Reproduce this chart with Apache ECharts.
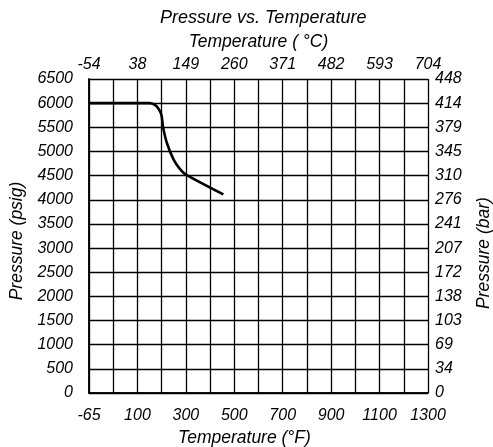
<!DOCTYPE html>
<html>
<head>
<meta charset="utf-8">
<script src="https://cdn.jsdelivr.net/npm/echarts@6/dist/echarts.min.js"></script>
<style>
html,body{margin:0;padding:0;background:#fff;}
#chart{width:493px;height:447px;}
</style>
</head>
<body>
<div id="chart"></div>
<script>
// ---- data ----
const fLabels = ['-65', '100', '300', '500', '700', '900', '1100', '1300'];
const cLabels = ['-54', '38', '149', '260', '371', '482', '593', '704'];
const psigLabels = ['0','500','1000','1500','2000','2500','3000','3500','4000','4500','5000','5500','6000','6500'];
const barLabels = ['0','34','69','103','138','172','207','241','276','310','345','379','414','448'];
const tempF = [-65, 150, 170, 185, 199, 206, 222, 250, 275, 300, 455];
const psig  = [6000, 6000, 5970, 5900, 5760, 5500, 5170, 4825, 4640, 4520, 4110];

// the chart's temperature axis: first two columns span -65..100 °F, then 100 °F per column
function pos(t) { return t <= 100 ? (t + 65) / 165 * 2 : 2 + (t - 100) / 100; }
const lineData = tempF.map((t, i) => [pos(t), psig[i]]);

const FONT = 'Liberation Sans';
const lbl = { color: '#000', fontFamily: FONT, fontStyle: 'italic', fontSize: 16 };
const nm = { color: '#000', fontFamily: FONT, fontStyle: 'italic', fontSize: 17.5 };
const axLine = { show: true, lineStyle: { color: '#000', width: 1.5 } };

const chart = echarts.init(document.getElementById('chart'), null, { renderer: 'canvas' });
chart.setOption({
  animation: false,
  backgroundColor: '#fff',
  title: {
    text: 'Pressure vs. Temperature',
    left: 160, top: 9, padding: 0,
    textStyle: Object.assign({}, nm, { fontSize: 18, fontWeight: 'normal' })
  },
  grid: { left: 89, right: 65, top: 79, bottom: 54, containLabel: false, outerBoundsMode: 'none' },
  xAxis: [{
    type: 'value', position: 'bottom', min: 0, max: 14, interval: 1,
    name: 'Temperature (°F)', nameLocation: 'middle', nameGap: 34,
    nameTextStyle: Object.assign({}, nm, { padding: [0, 28, 0, 0] }),
    axisLine: axLine, axisTick: { show: false },
    axisLabel: Object.assign({}, lbl, { margin: 15, formatter: v => (v % 2 === 0 ? fLabels[v / 2] : '') }),
    splitLine: { show: true, lineStyle: { color: '#000', width: 1.3 } }
  }, {
    type: 'value', position: 'top', min: 0, max: 14, interval: 1,
    name: 'Temperature ( °C)', nameLocation: 'middle', nameGap: 28,
    nameTextStyle: nm,
    axisLine: axLine, axisTick: { show: false },
    axisLabel: Object.assign({}, lbl, { margin: 6, formatter: v => (v % 2 === 0 ? cLabels[v / 2] : '') }),
    splitLine: { show: false }
  }],
  yAxis: [{
    type: 'value', position: 'left', min: 0, max: 6500, interval: 500,
    name: 'Pressure (psig)', nameLocation: 'middle', nameGap: 57, nameRotate: 90,
    nameTextStyle: Object.assign({}, nm, { padding: [0, 10, 0, 0] }),
    axisLine: axLine, axisTick: { show: false },
    axisLabel: Object.assign({}, lbl, { margin: 16, formatter: v => psigLabels[Math.round(v / 500)] }),
    splitLine: { show: true, lineStyle: { color: '#000', width: 1.3 } }
  }, {
    type: 'value', position: 'right', min: 0, max: 6500, interval: 500,
    name: 'Pressure (bar)', nameLocation: 'middle', nameGap: 47, nameRotate: 90,
    nameTextStyle: Object.assign({}, nm, { padding: [0, 34, 0, 0] }),
    axisLine: axLine, axisTick: { show: false },
    axisLabel: Object.assign({}, lbl, { margin: 7, formatter: v => barLabels[Math.round(v / 500)] }),
    splitLine: { show: false }
  }],
  series: [{
    type: 'line', xAxisIndex: 0, yAxisIndex: 0,
    data: lineData, showSymbol: false, smooth: 0.2,
    lineStyle: { color: '#000', width: 2.6 }
  }]
});
</script>
</body>
</html>
